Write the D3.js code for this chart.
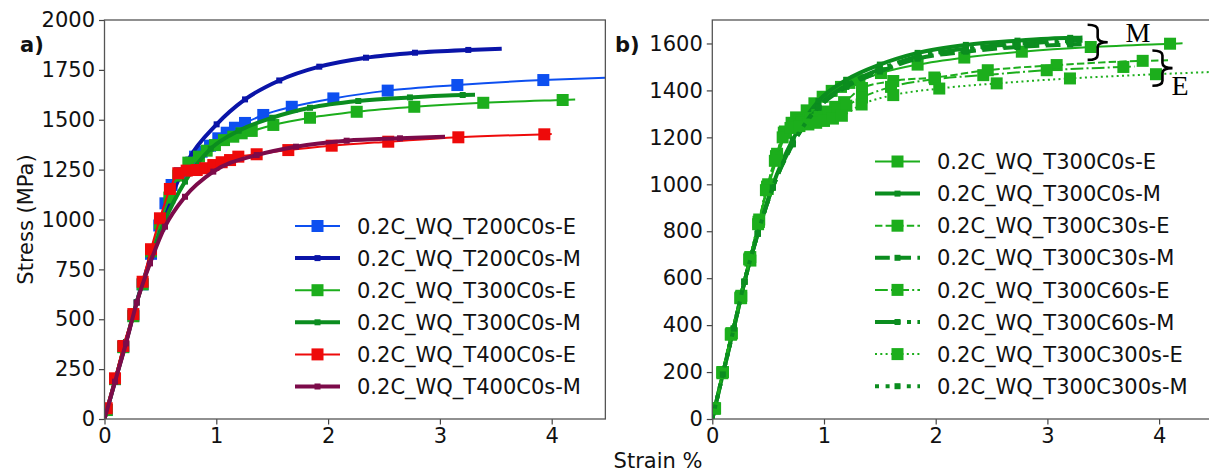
<!DOCTYPE html>
<html><head><meta charset="utf-8">
<script src="https://cdn.jsdelivr.net/npm/d3@7"></script>
<style>body{margin:0;background:#fff}svg{display:block}</style>
</head><body><svg id="c" width="1209" height="472"></svg>
<script>
// ---------- DATA (strain %, stress MPa) ----------
// last point of every series is the line end (no marker); first point is origin (no marker)
const leftNames = ["0.2C_WQ_T200C0s-E","0.2C_WQ_T200C0s-M","0.2C_WQ_T300C0s-E","0.2C_WQ_T300C0s-M","0.2C_WQ_T400C0s-E","0.2C_WQ_T400C0s-M"];
const rightNames = ["0.2C_WQ_T300C0s-E","0.2C_WQ_T300C0s-M","0.2C_WQ_T300C30s-E","0.2C_WQ_T300C30s-M","0.2C_WQ_T300C60s-E","0.2C_WQ_T300C60s-M","0.2C_WQ_T300C300s-E","0.2C_WQ_T300C300s-M"];

const strainT200E = [0,0.02,0.094,0.168,0.258,0.341,0.416,0.49,0.545,0.6,0.675,0.765,0.81,0.869,0.944,1.018,1.093,1.167,1.257,1.42,1.675,2.047,2.533,3.156,3.925,4.48];
const stressT200E = [0,45,200,362,518,675,828,970,1081,1173,1232,1282,1315,1340,1370,1407,1435,1460,1484,1524,1565,1607,1646,1674,1699,1710];
const strainT200M = [0,0.094,0.192,0.288,0.407,0.541,0.75,1.003,1.257,1.563,1.921,2.339,2.777,3.254,3.553];
const stressT200M = [0,190,385,585,800,1030,1300,1477,1602,1697,1766,1811,1836,1850,1856];
const strainT300E = [0,0.02,0.094,0.168,0.258,0.341,0.416,0.496,0.58,0.66,0.75,0.845,0.914,0.988,1.069,1.152,1.227,1.317,1.51,1.838,2.256,2.771,3.388,4.098,4.21];
const stressT300E = [0,45,200,360,515,675,840,980,1110,1220,1285,1315,1345,1373,1398,1415,1432,1444,1474,1510,1540,1565,1585,1599,1601];
const strainT300M = [0,0.094,0.192,0.288,0.407,0.541,0.72,0.95,1.2,1.5,1.838,2.27,2.732,3.204,3.314];
const stressT300M = [0,190,385,585,790,995,1190,1355,1445,1510,1560,1594,1612,1624,1625];
const strainT400E = [0,0.02,0.094,0.168,0.258,0.341,0.416,0.496,0.585,0.66,0.735,0.825,0.9,0.973,1.048,1.123,1.197,1.361,1.644,2.032,2.538,3.165,3.934,4.0];
const stressT400E = [0,54,204,366,526,688,851,1006,1153,1232,1245,1248,1257,1273,1287,1298,1315,1327,1348,1370,1390,1412,1427,1428];
const strainT400M = [0,0.094,0.192,0.288,0.407,0.541,0.72,0.973,1.361,1.713,2.166,2.643,3.046];
const stressT400M = [0,187,379,583,780,964,1114,1240,1323,1365,1395,1407,1415];

const strainC30E = [0,0.02,0.09,0.17,0.255,0.335,0.415,0.49,0.57,0.64,0.71,0.78,0.86,0.94,1.02,1.1,1.18,1.34,1.62,1.988,2.466,3.083,3.853,4.08];
const stressC30E = [0,45,200,365,520,685,840,990,1120,1220,1262,1272,1282,1295,1310,1330,1350,1410,1440,1455,1486,1508,1526,1528];
const strainC30M = [0,0.094,0.192,0.288,0.407,0.541,0.72,0.95,1.2,1.5,1.838,2.27,2.732,3.204,3.314];
const stressC30M = [0,190,385,585,790,985,1170,1325,1415,1480,1535,1565,1585,1595,1597];
const strainC60E = [0,0.025,0.095,0.175,0.26,0.34,0.42,0.5,0.58,0.65,0.72,0.8,0.88,0.96,1.04,1.12,1.2,1.34,1.6,1.994,2.426,2.994,3.68,3.78];
const stressC60E = [0,45,200,365,525,690,850,1000,1130,1225,1255,1265,1275,1288,1302,1318,1335,1370,1415,1448,1465,1486,1500,1502];
const strainC60M = [0,0.094,0.192,0.288,0.407,0.541,0.72,0.95,1.2,1.5,1.838,2.27,2.732,3.204,3.314];
const stressC60M = [0,190,385,585,790,988,1175,1332,1422,1490,1545,1578,1598,1610,1612];
const strainC300E = [0,0.02,0.09,0.165,0.25,0.33,0.41,0.48,0.56,0.63,0.7,0.78,0.86,0.93,1.0,1.08,1.16,1.337,1.62,2.032,2.546,3.202,3.972,4.5];
const stressC300E = [0,45,195,360,515,680,830,975,1100,1200,1240,1248,1255,1262,1270,1280,1292,1340,1380,1408,1430,1451,1469,1479];
const strainC300M = [0,0.094,0.192,0.288,0.407,0.541,0.72,0.95,1.2,1.5,1.838,2.27,2.732,3.204,3.314];
const stressC300M = [0,190,385,585,790,986,1172,1328,1418,1484,1540,1572,1592,1604,1606];

const leftXTicks = [0,1,2,3,4];
const leftYTicks = [0,250,500,750,1000,1250,1500,1750,2000];
const rightXTicks = [0,1,2,3,4];
const rightYTicks = [0,200,400,600,800,1000,1200,1400,1600];

// ---------- STYLE ----------
const FONT = "DejaVu Sans, sans-serif";
const cBlueE="#0d4ff0", cBlueM="#0a14a8", cGreenE="#1cae1c", cGreenM="#0b8d1f", cRedE="#ee0a0a", cPurpM="#7c0b4a";
const dashE = {solid:null, dashed:"7.4,3.2", dashdot:"12.8,3.2,2,3.2", dotted:"2,3.3"};
const dashM = {solid:null, dashed:"14.8,6.4", dashdot:"25.6,6.4,4,6.4", dotted:"4,6.6"};

function zipPts(xs, ys){ return xs.map((x,i)=>[x,ys[i]]); }

const leftSeries = [
  {name:leftNames[0], pts:zipPts(strainT200E,stressT200E), color:cBlueE, kind:"E", ls:"solid"},
  {name:leftNames[1], pts:zipPts(strainT200M,stressT200M), color:cBlueM, kind:"M", ls:"solid"},
  {name:leftNames[2], pts:zipPts(strainT300E,stressT300E), color:cGreenE, kind:"E", ls:"solid"},
  {name:leftNames[3], pts:zipPts(strainT300M,stressT300M), color:cGreenM, kind:"M", ls:"solid"},
  {name:leftNames[4], pts:zipPts(strainT400E,stressT400E), color:cRedE, kind:"E", ls:"solid"},
  {name:leftNames[5], pts:zipPts(strainT400M,stressT400M), color:cPurpM, kind:"M", ls:"solid"},
];
const rightSeries = [
  {name:rightNames[0], pts:zipPts(strainT300E,stressT300E), color:cGreenE, kind:"E", ls:"solid"},
  {name:rightNames[1], pts:zipPts(strainT300M,stressT300M), color:cGreenM, kind:"M", ls:"solid"},
  {name:rightNames[2], pts:zipPts(strainC30E,stressC30E), color:cGreenE, kind:"E", ls:"dashed"},
  {name:rightNames[3], pts:zipPts(strainC30M,stressC30M), color:cGreenM, kind:"M", ls:"dashed"},
  {name:rightNames[4], pts:zipPts(strainC60E,stressC60E), color:cGreenE, kind:"E", ls:"dashdot"},
  {name:rightNames[5], pts:zipPts(strainC60M,stressC60M), color:cGreenM, kind:"M", ls:"dashdot"},
  {name:rightNames[6], pts:zipPts(strainC300E,stressC300E), color:cGreenE, kind:"E", ls:"dotted"},
  {name:rightNames[7], pts:zipPts(strainC300M,stressC300M), color:cGreenM, kind:"M", ls:"dotted"},
];

const svg = d3.select("#c");

function panel(opts){
  const {id, x0, pxPerUnit, xMax, yTop, yBot, yMax, xTicks, yTicks, series, legX, legY0, label, labelX} = opts;
  const x = d3.scaleLinear().domain([0,xMax]).range([x0, x0+pxPerUnit*xMax]);
  const y = d3.scaleLinear().domain([0,yMax]).range([yBot, yTop]);
  const g = svg.append("g");
  svg.append("clipPath").attr("id",id).append("rect")
    .attr("x",x.range()[0]).attr("y",yTop).attr("width",x.range()[1]-x.range()[0]).attr("height",yBot-yTop);
  const plot = g.append("g").attr("clip-path",`url(#${id})`);
  const line = d3.line().x(d=>x(d[0])).y(d=>y(d[1])).curve(d3.curveMonotoneX);
  series.forEach(s=>{
    const lw = s.kind==="E"?2:4;
    const da = s.kind==="E"?dashE[s.ls]:dashM[s.ls];
    plot.append("path").attr("d",line(s.pts)).attr("fill","none").attr("stroke",s.color)
      .attr("stroke-width",lw).attr("stroke-dasharray",da).attr("stroke-linejoin","round");
    const ms = s.kind==="E"?12:6;
    plot.selectAll(null).data(s.pts.slice(1,-1)).enter().append("rect")
      .attr("x",d=>x(d[0])-ms/2).attr("y",d=>y(d[1])-ms/2).attr("width",ms).attr("height",ms)
      .attr("fill",s.color);
  });
  // axes
  const ax = g.append("g").attr("transform",`translate(0,${yBot})`)
    .call(d3.axisBottom(x).tickValues(xTicks).tickFormat(d3.format("d")).tickSize(5.5).tickPadding(4));
  const ay = g.append("g").attr("transform",`translate(${x0},0)`)
    .call(d3.axisLeft(y).tickValues(yTicks).tickFormat(d3.format("d")).tickSize(5.5).tickPadding(4));
  [ax,ay].forEach(a=>{
    a.select(".domain").remove();
    a.selectAll(".tick line").attr("stroke","#444").attr("stroke-width",1.2);
    a.selectAll(".tick text").attr("font-family",FONT).attr("font-size",21).attr("fill","#111");
  });
  // frame
  g.append("rect").attr("x",x.range()[0]).attr("y",yTop).attr("width",x.range()[1]-x.range()[0])
    .attr("height",yBot-yTop).attr("fill","none").attr("stroke","#555").attr("stroke-width",1.3);
  // panel label
  g.append("text").attr("x",labelX).attr("y",51.5).attr("font-family",FONT).attr("font-size",21)
    .attr("font-weight","bold").attr("fill","#111").text(label);
  // legend
  series.forEach((s,i)=>{
    const yy = legY0 + i*32.1;
    const lw = s.kind==="E"?2:4;
    const da = s.kind==="E"?dashE[s.ls]:dashM[s.ls];
    g.append("line").attr("x1",legX).attr("x2",legX+45).attr("y1",yy).attr("y2",yy)
      .attr("stroke",s.color).attr("stroke-width",lw).attr("stroke-dasharray",da);
    const ms = s.kind==="E"?12:6;
    g.append("rect").attr("x",legX+22.5-ms/2).attr("y",yy-ms/2).attr("width",ms).attr("height",ms).attr("fill",s.color);
    g.append("text").attr("x",legX+62).attr("y",yy+7.6).attr("font-family",FONT).attr("font-size",21)
      .attr("fill","#111").text(s.name);
  });
  return {x,y,g};
}

const L = panel({id:"clipL", x0:104.5, pxPerUnit:111.8, xMax:4.48, yTop:20, yBot:419, yMax:2000,
  xTicks:leftXTicks, yTicks:leftYTicks, series:leftSeries, legX:295, legY0:226, label:"a)", labelX:20});
const R = panel({id:"clipR", x0:712.3, pxPerUnit:111.7, xMax:4.5, yTop:20, yBot:419, yMax:1700,
  xTicks:rightXTicks, yTicks:rightYTicks, series:rightSeries, legX:875, legY0:161.5, label:"b)", labelX:615});

// axis titles
svg.append("text").attr("transform","translate(33,219.5) rotate(-90)").attr("text-anchor","middle")
  .attr("font-family",FONT).attr("font-size",21).attr("fill","#111").text("Stress (MPa)");
svg.append("text").attr("x",658).attr("y",468).attr("text-anchor","middle")
  .attr("font-family",FONT).attr("font-size",21).attr("fill","#111").text("Strain %");

// braces (annotation) in data coords of panel b
function brace(sx0, sx1, sTop, sBot){
  const x0=R.x(sx0), x1=R.x(sx1), y0=R.y(sTop), y1=R.y(sBot);
  const xm=(x0+x1)/2, ym=(y0+y1)/2, r=5;
  const p=`M${x0},${y0} Q${xm},${y0} ${xm},${y0+r} L${xm},${ym-r} Q${xm},${ym} ${x1},${ym} Q${xm},${ym} ${xm},${ym+r} L${xm},${y1-r} Q${xm},${y1} ${x0},${y1}`;
  svg.append("path").attr("d",p).attr("fill","none").attr("stroke","#000").attr("stroke-width",2.6);
}
brace(3.36, 3.54, 1680, 1530);
brace(3.94, 4.12, 1570, 1420);
svg.append("text").attr("x",R.x(3.70)).attr("y",42).attr("font-family","Liberation Serif, serif")
  .attr("font-size",28).attr("fill","#000").text("M");
svg.append("text").attr("x",R.x(4.11)).attr("y",95).attr("font-family","Liberation Serif, serif")
  .attr("font-size",28).attr("fill","#000").text("E");
</script></body></html>
